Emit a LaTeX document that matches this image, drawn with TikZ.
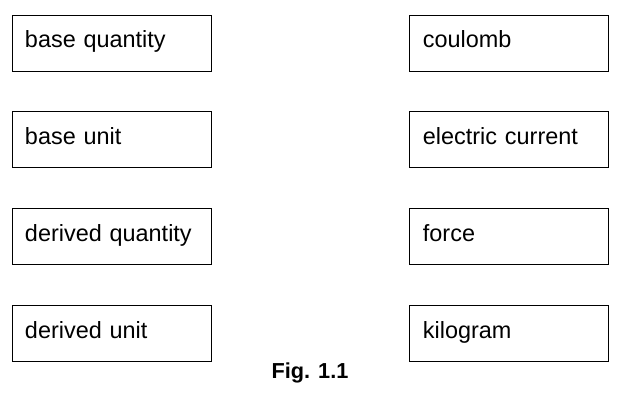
\documentclass[tikz,border=0pt]{standalone}
\usepackage{fontspec}
\setmainfont{Liberation Sans}
\usetikzlibrary{positioning}
\begin{document}
\begin{tikzpicture}[
    x=0.03cm, y=-0.03cm,
    node distance=1.2cm and 5.94cm,
    term/.style={rectangle, draw, line width=0.8pt, minimum width=5.97cm, minimum height=1.68cm,
        text width=5.19cm, text height=2.2ex, text depth=0.6ex, align=left, inner sep=0pt,
        font=\fontsize{20}{24}\selectfont}
]
    \useasboundingbox (0,0) rectangle (620,413);
    \node[term] (bquantity) at (111.5,43) {base quantity};
    \node[term, below=of bquantity] (bunit) {base unit};
    \node[term, below=of bunit] (dquantity) {derived quantity};
    \node[term, below=of dquantity] (dunit) {derived unit};

    \node[term, right=of bquantity] (coulomb) {coulomb};
    \node[term, right=of bunit] (current) {electric current};
    \node[term, right=of dquantity] (force) {force};
    \node[term, right=of dunit] (kilogram) {kilogram};

    % Caption
    \node[font=\bfseries\fontsize{18.5}{22}\selectfont] (caption) at (310,373) {Fig. 1.1};
\end{tikzpicture}
\end{document}
